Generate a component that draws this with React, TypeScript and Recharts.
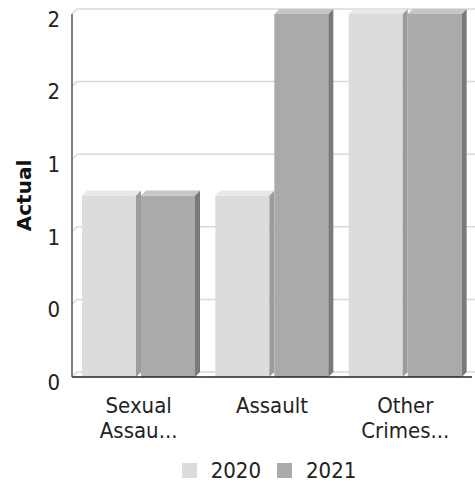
import { BarChart, Bar, XAxis, YAxis, CartesianGrid, Legend } from 'recharts';

const categories = ['Sexual Assau...', 'Assault', 'Other Crimes...'];
const values2020 = [1, 1, 2];
const values2021 = [1, 2, 2];
const yTicks = [0, 0.4, 0.8, 1.2, 1.6, 2];
const seriesNames = ['2020', '2021'];

const data = categories.map((name, i) => ({
    name,
    y2020: values2020[i],
    y2021: values2021[i],
}));

const FONT = '"DejaVu Sans Condensed", "DejaVu Sans", sans-serif';
const DEPTH = 5;

const palette: Record<string, { front: string; side: string; top: string }> = {
    y2020: { front: '#dcdcdc', side: '#9c9c9c', top: '#e8e8e8' },
    y2021: { front: '#aaaaaa', side: '#7a7a7a', top: '#c6c6c6' },
};

function Bar3D(props: any) {
    const { x, y, width, height, dataKey } = props;
    const c = palette[dataKey];
    const d = DEPTH;
    return (
        <g>
            <rect x={x} y={y} width={width} height={height} fill={c.front} />
            <polygon
                points={`${x + width},${y} ${x + width + d},${y - d} ${x + width + d},${y + height - d} ${x + width},${y + height}`}
                fill={c.side}
            />
            <polygon
                points={`${x},${y} ${x + d},${y - d} ${x + width + d},${y - d} ${x + width},${y}`}
                fill={c.top}
            />
        </g>
    );
}

function GridLine(props: any) {
    const { x1, y1, x2, key } = props;
    return (
        <path
            key={key}
            d={`M${x1},${y1} L${x1 + DEPTH},${y1 - DEPTH} L${x2 + DEPTH},${y1 - DEPTH}`}
            stroke="#d9d9d9"
            strokeWidth={1.5}
            fill="none"
        />
    );
}

function CategoryTick(props: any) {
    const { x, y, payload } = props;
    const label: string = payload.value;
    const sp = label.indexOf(' ');
    const lines = sp > 0 ? [label.slice(0, sp), label.slice(sp + 1)] : [label];
    return (
        <g transform={`translate(${x},${y})`}>
            {lines.map((line, i) => (
                <text
                    key={i}
                    x={0}
                    y={28 + i * 25}
                    textAnchor="middle"
                    fill="#222"
                    fontSize={22}
                    fontFamily={FONT}
                >
                    {line}
                </text>
            ))}
        </g>
    );
}

function LegendContent(props: any) {
    const payload = props.payload || [];
    return (
        <div style={{ display: 'flex', justifyContent: 'center', alignItems: 'center', fontFamily: FONT, fontSize: 22, color: '#222', height: 24, paddingLeft: 66 }}>
            {payload.map((item: any, i: number) => (
                <div key={i} style={{ display: 'flex', alignItems: 'center', marginLeft: i ? 16 : 0 }}>
                    <span style={{ width: 15, height: 15, background: item.color, display: 'inline-block', marginRight: 14 }} />
                    <span>{seriesNames[i]}</span>
                </div>
            ))}
        </div>
    );
}

export default function App() {
    return (
        <div style={{ width: 475, height: 489 }}>
            <style>{'body{margin:0}'}</style>
            <BarChart
                width={475}
                height={489}
                data={data}
                margin={{ top: 14, right: 3, left: 0, bottom: 0 }}
                barSize={54}
                barGap={5}
            >
                <CartesianGrid vertical={false} horizontal={GridLine as any} />
                <XAxis
                    dataKey="name"
                    axisLine={{ stroke: '#222', strokeWidth: 1.5 }}
                    tickLine={false}
                    tick={<CategoryTick />}
                    interval={0}
                    height={88}
                />
                <YAxis
                    width={72}
                    domain={[0, 2]}
                    ticks={yTicks}
                    tickFormatter={(v: number) => String(Math.round(v))}
                    axisLine={{ stroke: '#555', strokeWidth: 1.5 }}
                    tickLine={false}
                    tickSize={0}
                    tickMargin={12}
                    tick={{ fill: '#222', fontSize: 22, fontFamily: FONT, dy: 5 }}
                    label={{
                        value: 'Actual',
                        angle: -90,
                        position: 'insideLeft',
                        dx: 19,
                        fill: '#111',
                        fontSize: 20,
                        fontWeight: 'bold',
                        fontFamily: '"DejaVu Sans", sans-serif',
                        style: { textAnchor: 'middle' },
                    }}
                />
                <Legend
                    verticalAlign="bottom"
                    height={24}
                    content={<LegendContent />}
                    wrapperStyle={{ bottom: 7 }}
                />
                <Bar dataKey="y2020" name="2020" fill="#dcdcdc" shape={<Bar3D />} isAnimationActive={false} />
                <Bar dataKey="y2021" name="2021" fill="#aaaaaa" shape={<Bar3D />} isAnimationActive={false} />
            </BarChart>
        </div>
    );
}
